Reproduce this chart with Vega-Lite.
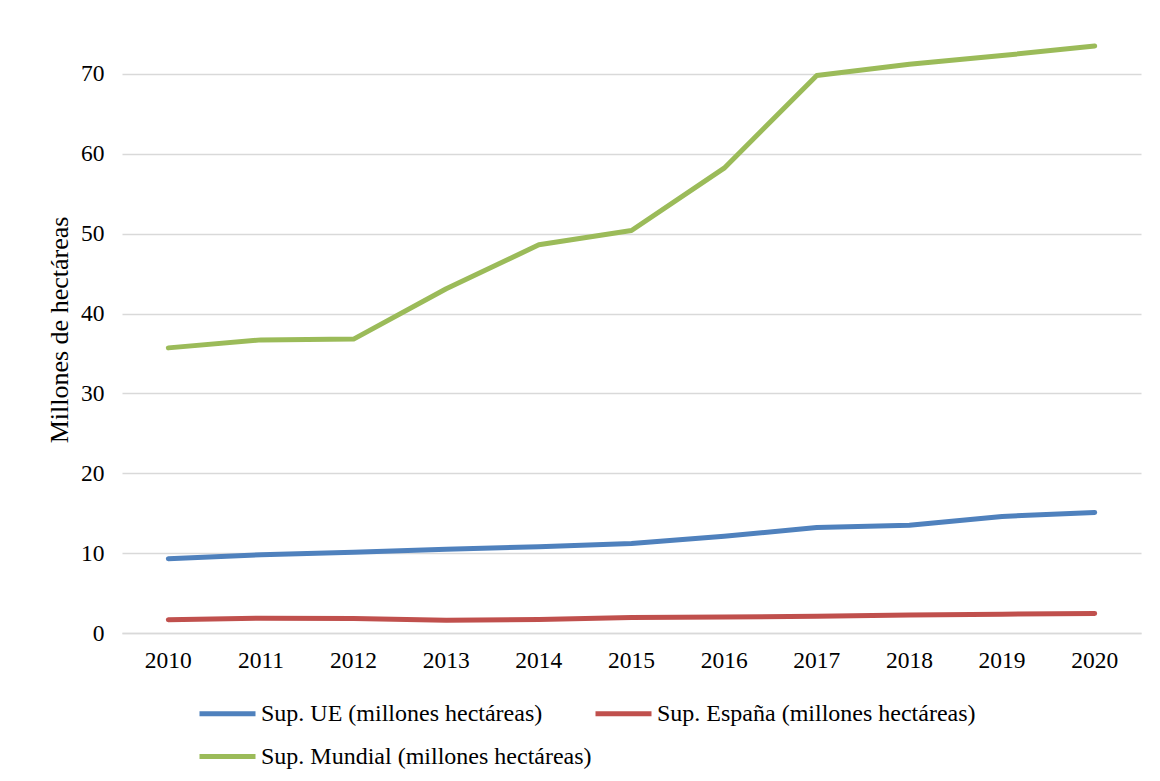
{
  "$schema": "https://vega.github.io/schema/vega-lite/v6.json",
  "width": 1019,
  "height": 607,
  "autosize": {"type": "none"},
  "padding": {"left": 122, "top": 26, "right": 19, "bottom": 148},
  "background": "white",
  "config": {
    "font": "Liberation Serif",
    "view": {"stroke": null},
    "axis": {"labelFont": "Liberation Serif", "titleFont": "Liberation Serif", "labelColor": "#000000", "titleColor": "#000000"}
  },
  "data": {
    "values": [
      {"year": "2010", "serie": "Sup. UE (millones hectáreas)", "v": 9.3},
      {"year": "2011", "serie": "Sup. UE (millones hectáreas)", "v": 9.8},
      {"year": "2012", "serie": "Sup. UE (millones hectáreas)", "v": 10.1},
      {"year": "2013", "serie": "Sup. UE (millones hectáreas)", "v": 10.5},
      {"year": "2014", "serie": "Sup. UE (millones hectáreas)", "v": 10.8},
      {"year": "2015", "serie": "Sup. UE (millones hectáreas)", "v": 11.2},
      {"year": "2016", "serie": "Sup. UE (millones hectáreas)", "v": 12.1},
      {"year": "2017", "serie": "Sup. UE (millones hectáreas)", "v": 13.2},
      {"year": "2018", "serie": "Sup. UE (millones hectáreas)", "v": 13.5},
      {"year": "2019", "serie": "Sup. UE (millones hectáreas)", "v": 14.6},
      {"year": "2020", "serie": "Sup. UE (millones hectáreas)", "v": 15.1},
      {"year": "2010", "serie": "Sup. España (millones hectáreas)", "v": 1.65},
      {"year": "2011", "serie": "Sup. España (millones hectáreas)", "v": 1.85},
      {"year": "2012", "serie": "Sup. España (millones hectáreas)", "v": 1.8},
      {"year": "2013", "serie": "Sup. España (millones hectáreas)", "v": 1.6},
      {"year": "2014", "serie": "Sup. España (millones hectáreas)", "v": 1.7},
      {"year": "2015", "serie": "Sup. España (millones hectáreas)", "v": 1.95},
      {"year": "2016", "serie": "Sup. España (millones hectáreas)", "v": 2.0},
      {"year": "2017", "serie": "Sup. España (millones hectáreas)", "v": 2.1},
      {"year": "2018", "serie": "Sup. España (millones hectáreas)", "v": 2.25},
      {"year": "2019", "serie": "Sup. España (millones hectáreas)", "v": 2.35},
      {"year": "2020", "serie": "Sup. España (millones hectáreas)", "v": 2.45},
      {"year": "2010", "serie": "Sup. Mundial (millones hectáreas)", "v": 35.7},
      {"year": "2011", "serie": "Sup. Mundial (millones hectáreas)", "v": 36.7},
      {"year": "2012", "serie": "Sup. Mundial (millones hectáreas)", "v": 36.8},
      {"year": "2013", "serie": "Sup. Mundial (millones hectáreas)", "v": 43.1},
      {"year": "2014", "serie": "Sup. Mundial (millones hectáreas)", "v": 48.6},
      {"year": "2015", "serie": "Sup. Mundial (millones hectáreas)", "v": 50.4},
      {"year": "2016", "serie": "Sup. Mundial (millones hectáreas)", "v": 58.2},
      {"year": "2017", "serie": "Sup. Mundial (millones hectáreas)", "v": 69.8},
      {"year": "2018", "serie": "Sup. Mundial (millones hectáreas)", "v": 71.2},
      {"year": "2019", "serie": "Sup. Mundial (millones hectáreas)", "v": 72.3},
      {"year": "2020", "serie": "Sup. Mundial (millones hectáreas)", "v": 73.5}
    ]
  },
  "mark": {"type": "line", "interpolate": "linear", "strokeWidth": 5, "strokeCap": "round", "strokeJoin": "round"},
  "encoding": {
    "x": {
      "field": "year", "type": "ordinal",
      "scale": {"type": "band", "paddingInner": 0, "paddingOuter": 0},
      "axis": {
        "title": null, "labelAngle": 0, "labelFontSize": 23.5, "labelPadding": 15,
        "ticks": false, "grid": false, "domainColor": "#d9d9d9", "domainWidth": 1.5
      }
    },
    "y": {
      "field": "v", "type": "quantitative",
      "scale": {"domain": [0, 76], "nice": false, "zero": true},
      "axis": {
        "title": "Millones de hectáreas", "titleFontSize": 26, "titleFontWeight": "normal", "titlePadding": 8,
        "values": [0, 10, 20, 30, 40, 50, 60, 70],
        "labelFontSize": 23.5, "labelPadding": 18,
        "ticks": false, "domain": false, "grid": true, "gridColor": "#d9d9d9", "gridWidth": 1.5
      }
    },
    "color": {
      "field": "serie", "type": "nominal",
      "scale": {
        "domain": ["Sup. UE (millones hectáreas)", "Sup. Mundial (millones hectáreas)", "Sup. España (millones hectáreas)"],
        "range": ["#4f81bd", "#9bbb59", "#c0504d"]
      },
      "legend": {
        "title": null, "orient": "none", "legendX": 75, "legendY": 657,
        "columns": 2, "columnPadding": -7, "rowPadding": 0,
        "symbolType": "stroke", "symbolSize": 3136, "symbolStrokeWidth": 5,
        "labelFontSize": 24, "labelFont": "Liberation Serif", "labelColor": "#000000", "labelOffset": 3,
        "labelLimit": 600
      }
    }
  }
}
